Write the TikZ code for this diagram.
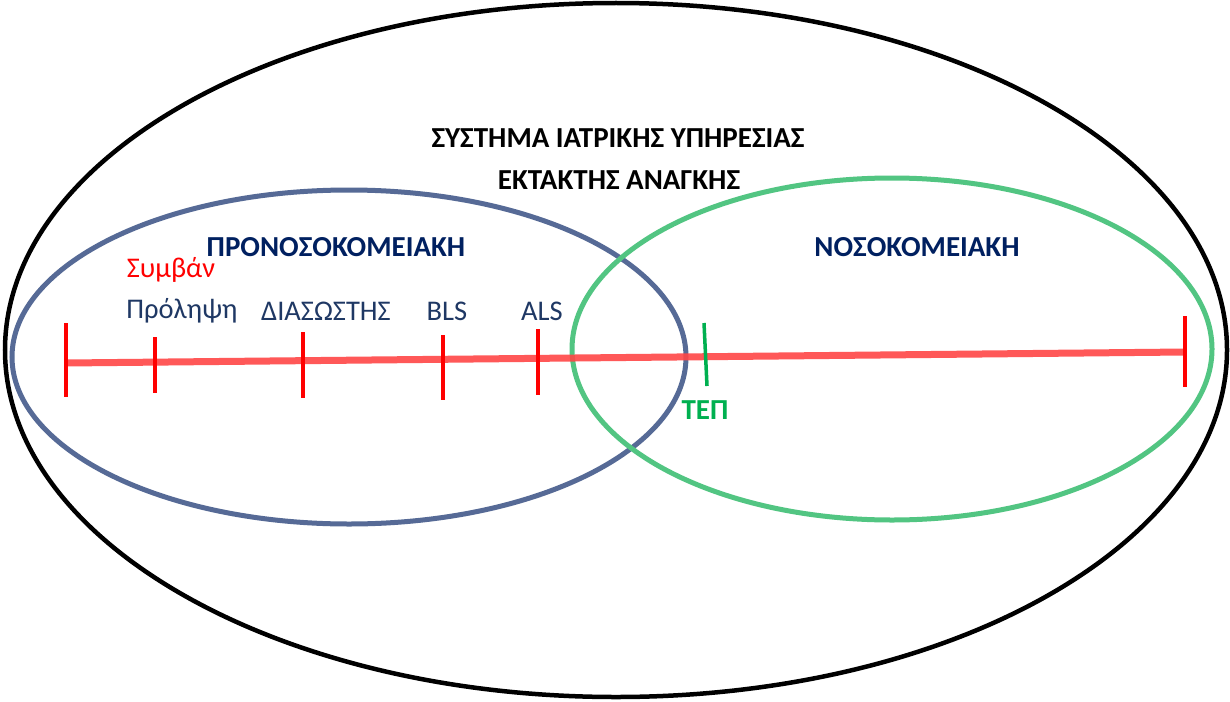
\documentclass[tikz,border=0pt]{standalone}
\usepackage{fontspec}
\setmainfont{Carlito}
\usetikzlibrary{shapes.geometric}
\definecolor{framek}{RGB}{0,0,0}
\definecolor{preblue}{RGB}{86,106,150}
\definecolor{hospgreen}{RGB}{82,197,130}
\definecolor{lineRed}{RGB}{255,70,70}
\definecolor{tickRed}{RGB}{255,0,0}
\definecolor{tepgreen}{RGB}{0,176,80}
\definecolor{darknavy}{RGB}{0,32,96}
\definecolor{labelnavy}{RGB}{31,56,100}
\tikzset{
  region/.style={ellipse, draw, inner sep=0pt, line width=#1},
  region/.default=5pt,
  title/.style={font=\fontsize{29}{34}\selectfont\bfseries, inner sep=0pt},
  stage/.style={font=\fontsize{28.5}{34}\selectfont, text=labelnavy, inner sep=0pt},
  timeline/.style={draw=lineRed, line width=7pt, opacity=0.9},
  ticker/.style={draw=tickRed, line width=4pt},
}
\begin{document}
\begin{tikzpicture}[x=1pt,y=-1pt]
\useasboundingbox (0,0) rectangle (1230,701);
\fill[white] (0,0) rectangle (1230,701);

% the three regions
\node[region=4.5pt, draw=framek, minimum width=1222pt, minimum height=694pt] (sys) at (616,350) {};
\node[region, draw=preblue, minimum width=674pt, minimum height=334pt] (pre) at (349,357) {};
\node[region, draw=hospgreen, minimum width=640pt, minimum height=342pt] (hosp) at (892,349) {};

% region titles
\node[title] (sysA) at (618,138) {ΣΥΣΤΗΜΑ ΙΑΤΡΙΚΗΣ ΥΠΗΡΕΣΙΑΣ};
\node[title] (sysB) at (619,180) {ΕΚΤΑΚΤΗΣ ΑΝΑΓΚΗΣ};
\node[title, text=darknavy] (preT) at (336,247) {ΠΡΟΝΟΣΟΚΟΜΕΙΑΚΗ};
\node[title, text=darknavy] (hospT) at (917,247) {ΝΟΣΟΚΟΜΕΙΑΚΗ};

% timeline
\coordinate (tA) at (66,363);
\coordinate (tB) at (1185,352);
\draw[timeline] (tA) -- (tB);

% tick marks
\coordinate (k0a) at (66,323);   \coordinate (k0b) at (66,397);
\coordinate (k1a) at (155,337);  \coordinate (k1b) at (155,393);
\coordinate (k2a) at (303,332);  \coordinate (k2b) at (303,398);
\coordinate (k3a) at (443,335);  \coordinate (k3b) at (443,400);
\coordinate (k4a) at (538,329);  \coordinate (k4b) at (538,395);
\coordinate (k5a) at (1185,316); \coordinate (k5b) at (1185,387);
\coordinate (tepa) at (704,323); \coordinate (tepb) at (707,386);
\draw[ticker] (k0a) -- (k0b);
\draw[ticker] (k1a) -- (k1b);
\draw[ticker] (k2a) -- (k2b);
\draw[ticker] (k3a) -- (k3b);
\draw[ticker] (k4a) -- (k4b);
\draw[ticker] (k5a) -- (k5b);
\draw[draw=tepgreen, line width=3.5pt] (tepa) -- (tepb);

% stage labels
\node[stage, text=red] (ev) at (171,270) {Συμβάν};
\node[stage] (s1) at (182,311) {Πρόληψη};
\node[stage] (s2) at (326,311) {ΔΙΑΣΩΣΤΗΣ};
\node[stage] (s3) at (447,311) {BLS};
\node[stage] (s4) at (542,311) {ALS};
\node[title, text=tepgreen] (tep) at (705,410) {ΤΕΠ};
\end{tikzpicture}
\end{document}
